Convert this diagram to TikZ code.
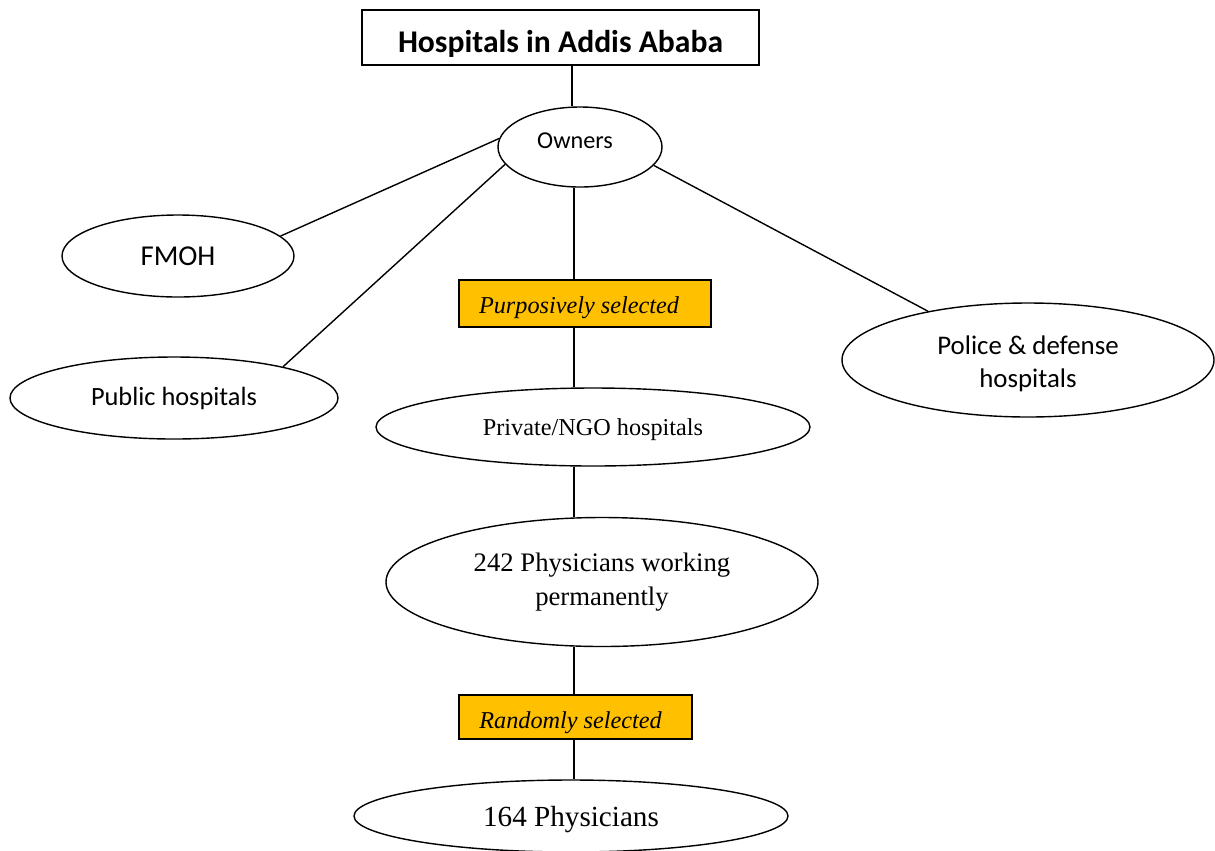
\documentclass[tikz,border=0pt]{standalone}
\usepackage{fontspec}
\setmainfont{Liberation Serif}
\newfontfamily\calfont{Carlito}
\usetikzlibrary{shapes.geometric}
\definecolor{gold}{HTML}{FFC000}
\newcommand\mvtext[3]{\hbox{\kern#1\raisebox{#2}[\height][\depth]{#3}\kern-#1}}
\tikzset{
  oval/.style={ellipse, draw, line width=0.8pt, inner sep=0pt, align=center},
  tagbox/.style={rectangle, draw, line width=0.8pt, fill=gold, inner sep=0pt, font=\itshape\fontsize{13.8}{16}\selectfont},
  link/.style={line width=0.8pt},
}
\begin{document}
\begin{tikzpicture}[x=0.02cm,y=-0.02cm]
\useasboundingbox (0,0) rectangle (1215,850);
\coordinate (spine) at (574,0);
\coordinate (topspine) at (572,0);
\node[rectangle, draw, line width=0.8pt, minimum width=397*0.02cm, minimum height=55*0.02cm, inner sep=0pt,
  font=\calfont\bfseries\fontsize{18}{21}\selectfont] (title) at (560.5,37.5) {\mvtext{0pt}{-3.4pt}{Hospitals in Addis Ababa}};
\node[oval, minimum width=164*0.02cm, minimum height=80*0.02cm, font=\calfont\fontsize{13.8}{16}\selectfont] (owners) at (580,147) {\mvtext{-2.8pt}{3.5pt}{Owners}};
\node[oval, minimum width=232*0.02cm, minimum height=82*0.02cm, font=\calfont\fontsize{16.4}{19}\selectfont] (fmoh) at (178,256) {FMOH};
\node[oval, minimum width=328*0.02cm, minimum height=82*0.02cm, font=\calfont\fontsize{15}{18}\selectfont] (public) at (174,398) {Public hospitals};
\node[oval, minimum width=372*0.02cm, minimum height=114*0.02cm, font=\calfont\fontsize{15.3}{18.7}\selectfont] (police) at (1028,360) {\mvtext{0pt}{-2pt}{Police \& defense}\\\mvtext{0pt}{-2pt}{hospitals}};
\node[tagbox, minimum width=252*0.02cm, minimum height=47*0.02cm] (purp) at (585,303.5) {\mvtext{-3.4pt}{-2.5pt}{Purposively selected}};
\node[oval, minimum width=434*0.02cm, minimum height=78*0.02cm, font=\fontsize{13.8}{16}\selectfont] (private) at (593,427) {\mvtext{0pt}{-1.5pt}{Private/NGO hospitals}};
\node[oval, minimum width=432*0.02cm, minimum height=129*0.02cm, font=\fontsize{15.2}{19.8}\selectfont] (phys) at (602,582) {242 Physicians working\\permanently};
\node[tagbox, minimum width=233*0.02cm, minimum height=44*0.02cm] (rand) at (575.5,717) {\mvtext{-2.8pt}{-3pt}{Randomly selected}};
\node[oval, minimum width=434*0.02cm, minimum height=72*0.02cm, font=\fontsize{16.6}{19}\selectfont] (final) at (571,816) {\mvtext{0pt}{-2pt}{164 Physicians}};
\draw[link] (title.south -| topspine) -- (owners.north -| topspine);
\draw[link] (owners.174) -- (fmoh.11);
\draw[link] (owners.193.5) -- (public.16);
\draw[link] (owners.346) -- (police.154.4);
\draw[link] (owners.south -| spine) -- (purp.north -| spine);
\draw[link] (purp.south -| spine) -- (private.north -| spine);
\draw[link] (private.south -| spine) -- (phys.north -| spine);
\draw[link] (phys.south -| spine) -- (rand.north -| spine);
\draw[link] (rand.south -| spine) -- (final.north -| spine);
\end{tikzpicture}
\end{document}
